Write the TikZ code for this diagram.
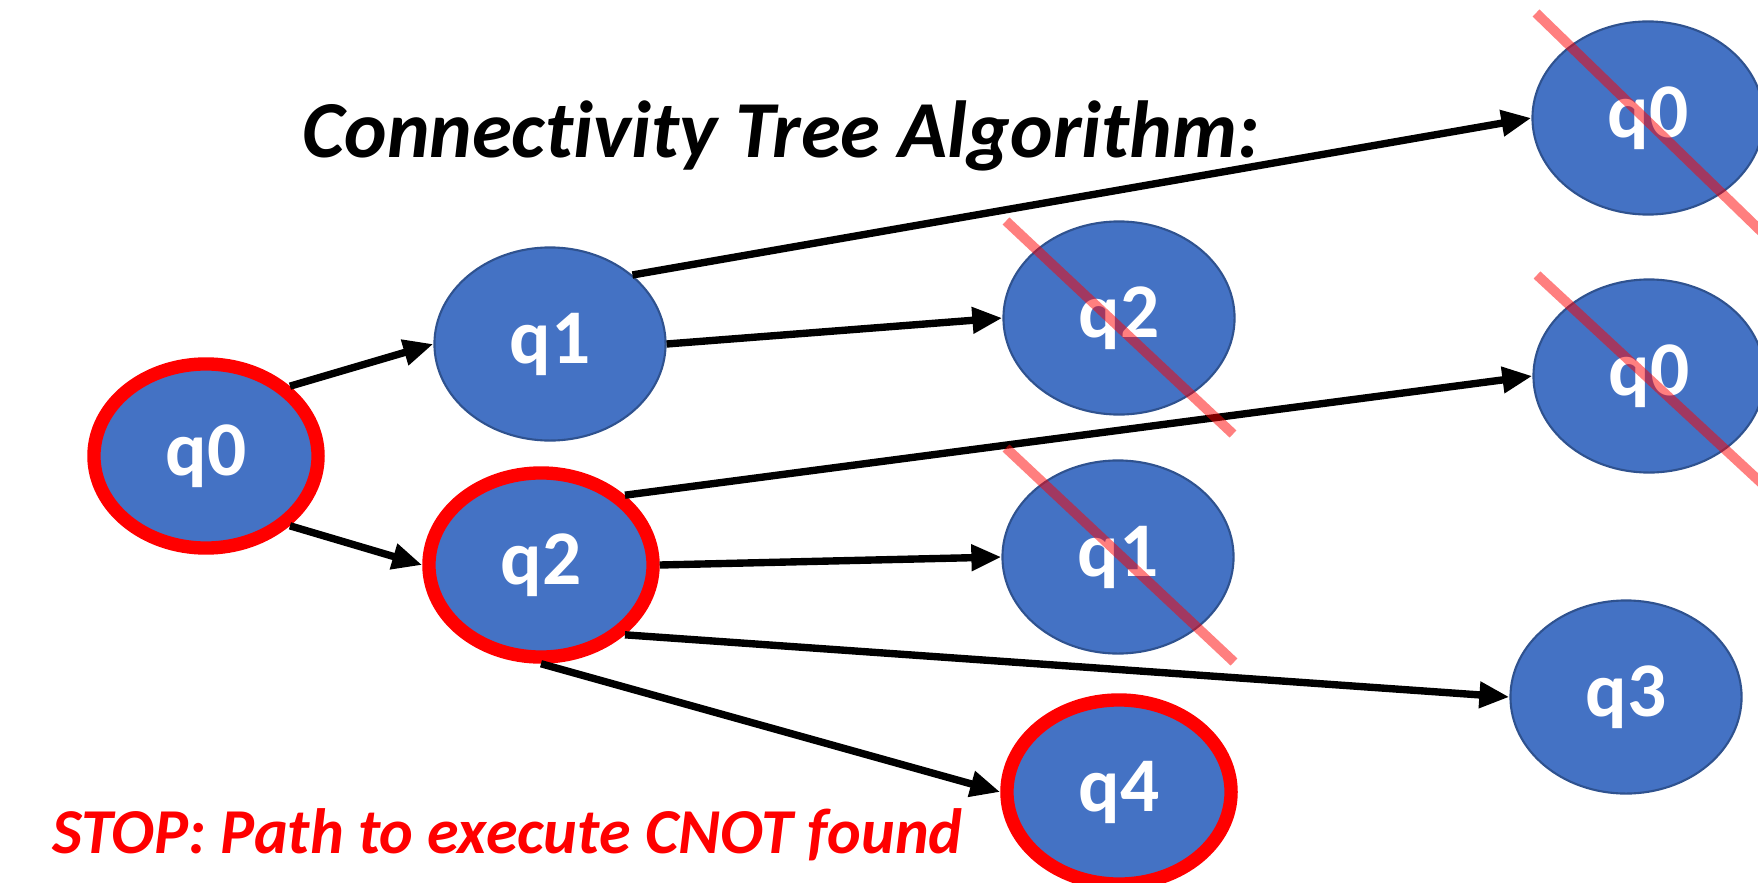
\documentclass[tikz,border=0pt]{standalone}
\usepackage{fontspec}
\setmainfont{Carlito}[Ligatures=NoCommon]
\usepackage{xcolor}
\usetikzlibrary{shapes,arrows.meta,positioning,calc}
\definecolor{qblue}{HTML}{4472C4}
\definecolor{qedge}{HTML}{2F528F}
\begin{document}
\begin{tikzpicture}[
	%	style def
    x=0.01cm, y=-0.01cm,
    qubit/.style={ellipse, fill=qblue, draw=qedge, line width=0.6pt, minimum width=2.31cm, minimum height=1.93cm, inner sep=0pt, text=white, font=\fontsize{22}{24}\selectfont\bfseries},
    visited/.style={qubit, draw=red, line width=3.8pt, minimum width=2.24cm, minimum height=1.84cm},
    important line/.style={line width=2.1pt, -{Triangle[length=3mm,width=2.5mm]}},
    cross/.style={red, opacity=0.5, line width=2.8pt}
    ]
	\useasboundingbox (0,0) rectangle (1758,882);

	% heading
	\node[anchor=base west, font=\fontsize{23}{24}\selectfont\bfseries\itshape] (title) at (290,158) {Connectivity Tree Algorithm:};

	% tree of qubits
	\node[visited] (q0) at (206,456) {q0};
	\node[qubit] (q1) at (550,344) {q1};
	\node[visited] (q2) at (541,565) {q2};
	\node[qubit] (q2x) at (1119,318) {q2};
	\node[qubit] (q1x) at (1118,557) {q1};
	\node[visited] (q4) at (1119,792) {q4};
	\node[qubit] (q0a) at (1648,118) {q0};
	\node[qubit] (q0b) at (1649,376) {q0};
	\node[qubit] (q3) at (1626,697) {q3};

	% connections
	\draw[important line] (q0.north east) -- (q1.west);
	\draw[important line] (q0.south east) -- (q2.west);
	\draw[important line] (q1.north east) -- (q0a.west);
	\draw[important line] (q1.east) -- (q2x.west);
	\draw[important line] (q2.north east) -- (q0b.west);
	\draw[important line] (q2.east) -- (q1x.west);
	\draw[important line] (q2.south east) -- (q3.west);
	\draw[important line] (q2.south) -- (q4.west);

	% already visited, crossed out
	\draw[cross] (1006,221) -- (1233,434);
	\draw[cross] (1006,448) -- (1234,662);
	\draw[cross] (1536,13) -- (1770,240);
	\draw[cross] (1537,275) -- (1770,491);

	%message when target is reached
	\node[anchor=base west, text=red, font=\fontsize{18.2}{19}\selectfont\bfseries\itshape] (stop) at (40,853) {STOP: Path to execute CNOT found};
\end{tikzpicture}
\end{document}
